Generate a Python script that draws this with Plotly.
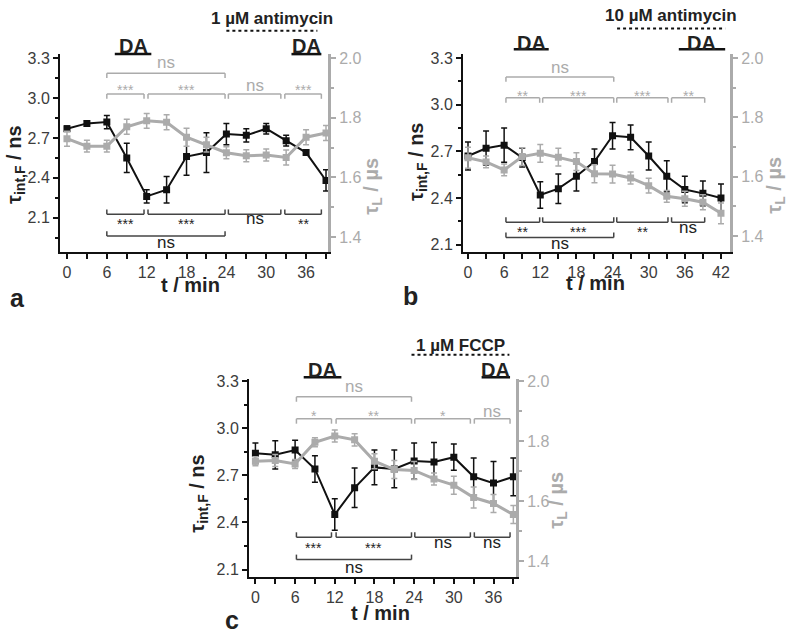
import plotly.graph_objects as go

# ---------------- data ----------------
# panel a : 1 uM antimycin
t_a = [0, 3, 6, 9, 12, 15, 18, 21, 24, 27, 30, 33, 36, 39]
tau_f_a = [2.77, 2.81, 2.82, 2.55, 2.26, 2.31, 2.56, 2.59, 2.73, 2.72, 2.77, 2.68, 2.59, 2.38]
tau_f_a_err = [0.02, 0.02, 0.05, 0.11, 0.05, 0.10, 0.14, 0.15, 0.08, 0.05, 0.04, 0.04, 0.02, 0.08]
tau_l_a = [1.73, 1.705, 1.705, 1.77, 1.79, 1.785, 1.735, 1.71, 1.683, 1.673, 1.675, 1.667, 1.735, 1.749]
tau_l_a_err = [0.025, 0.02, 0.02, 0.025, 0.025, 0.025, 0.03, 0.025, 0.02, 0.02, 0.02, 0.025, 0.025, 0.025]

# panel b : 10 uM antimycin
t_b = [0, 3, 6, 9, 12, 15, 18, 21, 24, 27, 30, 33, 36, 39, 42]
tau_f_b = [2.67, 2.72, 2.74, 2.66, 2.42, 2.46, 2.54, 2.635, 2.80, 2.79, 2.67, 2.54, 2.455, 2.43, 2.40]
tau_f_b_err = [0.09, 0.11, 0.11, 0.06, 0.085, 0.095, 0.095, 0.08, 0.085, 0.08, 0.09, 0.10, 0.085, 0.08, 0.09]
tau_l_b = [1.664, 1.65, 1.623, 1.668, 1.679, 1.666, 1.651, 1.61, 1.609, 1.596, 1.57, 1.534, 1.526, 1.514, 1.477]
tau_l_b_err = [0.035, 0.02, 0.02, 0.03, 0.03, 0.03, 0.03, 0.03, 0.03, 0.02, 0.025, 0.02, 0.025, 0.025, 0.035]

# panel c : 1 uM FCCP
t_c = [0, 3, 6, 9, 12, 15, 18, 21, 24, 27, 30, 33, 36, 39]
tau_f_c = [2.84, 2.83, 2.86, 2.74, 2.45, 2.62, 2.75, 2.74, 2.79, 2.785, 2.815, 2.69, 2.65, 2.69]
tau_f_c_err = [0.065, 0.09, 0.063, 0.084, 0.10, 0.126, 0.11, 0.12, 0.115, 0.124, 0.084, 0.12, 0.137, 0.12]
tau_l_c = [1.733, 1.735, 1.724, 1.796, 1.817, 1.804, 1.733, 1.705, 1.702, 1.674, 1.653, 1.612, 1.592, 1.555]
tau_l_c_err = [0.015, 0.02, 0.015, 0.015, 0.02, 0.02, 0.025, 0.03, 0.03, 0.02, 0.03, 0.035, 0.03, 0.03]

# significance labels (grey = tau_L, black = tau_int,F)
sig_grey_a = ["***", "***", "ns", "***"]
sig_black_a = ["***", "***", "ns", "**"]
sig_grey_b = ["**", "***", "***", "**"]
sig_black_b = ["**", "***", "**", "ns"]
sig_grey_c = ["*", "**", "*", "ns"]
sig_black_c = ["***", "***", "ns", "ns"]
sig_outer = "ns"

drugs = ["1 µM antimycin", "10 µM antimycin", "1 µM FCCP"]
letters = ["a", "b", "c"]

# ---------------- layout ----------------
W, H = 787, 635
FONT = "Liberation Sans, Arial, sans-serif"
INK = "#111111"
GREY = "#ababab"
TICKC = "#3c3c3c"

panels = [
    dict(t=t_a, f=tau_f_a, fe=tau_f_a_err, l=tau_l_a, le=tau_l_a_err,
         sg=sig_grey_a, sb=sig_black_a,
         px=(60, 328), py=(48, 248), xr=(-1.05, 39.3), yl=(1.842, 3.33), yr=(1.35, 2.013),
         spans=[(6, 11.6), (12.2, 23.8), (24.3, 32.2), (32.8, 38.3)], outer=(6, 23.8),
         rows=(0.905, 0.95, 0.80, 0.835, 0.19, 0.16, 0.08, 0.04),
         da=[(7.2, 12.7), (33.8, 38.3)], da_y=(47.7, 40), drug=(24, 37.7), drug_y=(24, 12),
         ltit=(16, 160), rtit=(373, 182), xtit=(190, 282), let=(17, 295)),
    dict(t=t_b, f=tau_f_b, fe=tau_f_b_err, l=tau_l_b, le=tau_l_b_err,
         sg=sig_grey_b, sb=sig_black_b,
         px=(463, 730), py=(48, 248), xr=(-0.83, 43.5), yl=(2.054, 3.323), yr=(1.347, 2.012),
         spans=[(6.3, 11.9), (12.4, 24.2), (24.7, 33.2), (33.8, 39.3)], outer=(6.3, 24.2),
         rows=(0.886, 0.925, 0.78, 0.805, 0.15, 0.118, 0.073, 0.036),
         da=[(7.6, 13.4), (35, 42.7)], da_y=(42.7, 36), drug=(24.75, 42.7), drug_y=(21.7, 9),
         ltit=(417, 157), rtit=(776, 181), xtit=(595, 280), let=(410, 293)),
    dict(t=t_c, f=tau_f_c, fe=tau_f_c_err, l=tau_l_c, le=tau_l_c_err,
         sg=sig_grey_c, sb=sig_black_c,
         px=(249, 516), py=(377, 577), xr=(-0.97, 39.4), yl=(2.054, 3.311), yr=(1.348, 2.006),
         spans=[(6.2, 11.5), (12.2, 23.6), (24.1, 32.5), (33.1, 38.5)], outer=(6.2, 23.6),
         rows=(0.911, 0.955, 0.80, 0.83, 0.20, 0.164, 0.087, 0.042),
         da=[(7.3, 13), (34.2, 38.5)], da_y=(375, 368), drug=(23.6, 38.4), drug_y=(352.3, 343),
         ltit=(199, 492), rtit=(558, 500), xtit=(380, 614), let=(232, 621)),
]

fig = go.Figure()
shapes, annos = [], []
layout = {}


def key(base, n):
    return base if n == 1 else f"{base}{n}"


for i, p in enumerate(panels):
    xn = key("x", i + 1)
    yln = key("y", 2 * i + 1)
    yrn = key("y", 2 * i + 2)
    xdom = [p["px"][0] / W, p["px"][1] / W]
    ydom = [1 - p["py"][1] / H, 1 - p["py"][0] / H]
    ph = p["py"][1] - p["py"][0]

    fig.add_trace(go.Scatter(
        x=p["t"], y=p["f"], xaxis=xn, yaxis=yln, mode="lines+markers",
        line=dict(color=INK, width=2), marker=dict(symbol="square", size=7, color=INK),
        error_y=dict(type="data", array=p["fe"], color=INK, thickness=1.5, width=3),
        showlegend=False))
    fig.add_trace(go.Scatter(
        x=p["t"], y=p["l"], xaxis=xn, yaxis=yrn, mode="lines+markers",
        line=dict(color=GREY, width=3), marker=dict(symbol="square", size=7, color=GREY),
        error_y=dict(type="data", array=p["le"], color=GREY, thickness=1.5, width=3),
        showlegend=False))

    layout[key("xaxis", i + 1)] = dict(
        domain=xdom, anchor=yln, range=list(p["xr"]), tick0=0, dtick=6,
        ticks="outside", ticklen=5, tickwidth=1.5, tickcolor=INK,
        minor=dict(dtick=3, tick0=0, ticks="outside", ticklen=5, tickwidth=1.5, tickcolor=INK),
        showline=True, linecolor=INK, linewidth=2, showgrid=False, zeroline=False,
        tickfont=dict(family=FONT, size=16, color=TICKC))
    layout[key("yaxis", 2 * i + 1)] = dict(
        domain=ydom, anchor=xn, range=list(p["yl"]), tick0=2.1, dtick=0.3, tickformat=".1f",
        ticks="outside", ticklen=5, tickwidth=1.5, tickcolor=INK,
        minor=dict(dtick=0.15, tick0=2.1, ticks="outside", ticklen=3, tickwidth=1.5, tickcolor=INK),
        showline=True, linecolor=INK, linewidth=2, showgrid=False, zeroline=False,
        tickfont=dict(family=FONT, size=16, color=TICKC))
    layout[key("yaxis", 2 * i + 2)] = dict(
        domain=ydom, anchor=xn, overlaying=yln, side="right", range=list(p["yr"]),
        tick0=1.4, dtick=0.2, tickformat=".1f",
        ticks="outside", ticklen=5, tickwidth=1.5, tickcolor=GREY,
        minor=dict(dtick=0.1, tick0=1.4, ticks="outside", ticklen=3, tickwidth=1.5, tickcolor=GREY),
        showline=True, linecolor=GREY, linewidth=3, showgrid=False, zeroline=False,
        tickfont=dict(family=FONT, size=16, color=GREY))

    xr0, xr1 = p["xr"]

    def fx(t):
        return (t - xr0) / (xr1 - xr0)

    xd = "x domain" if i == 0 else f"x{i + 1} domain"
    yd = "y domain" if i == 0 else f"y{2 * i + 1} domain"
    hb = 5 / ph

    def bracket(t0, t1, y, up, color):
        dy = hb if up else -hb
        for (a, b, c, d) in [(t0, y, t1, y), (t0, y, t0, y + dy), (t1, y, t1, y + dy)]:
            shapes.append(dict(type="line", xref=xd, yref=yd, x0=fx(a), y0=b, x1=fx(c), y1=d,
                               line=dict(color=color, width=1.5)))

    def label(t, y, txt, color):
        small = "*" in txt
        yy = y - (3.3 / ph if small else -1.4 / ph)
        annos.append(dict(xref=xn, yref=yd, x=t, y=yy, text=txt, showarrow=False,
                          xanchor="center", yanchor="middle",
                          font=dict(family=FONT, size=14 if small else 17, color=color)))

    top_line, top_txt, row_line, row_txt, bot_line, bot_txt, low_line, low_txt = p["rows"]
    o0, o1 = p["outer"]
    bracket(o0, o1, top_line, False, GREY)
    label((o0 + o1) / 2, top_txt, sig_outer, GREY)
    bracket(o0, o1, low_line, True, "#444444")
    label((o0 + o1) / 2, low_txt, sig_outer, "#222222")
    for (s0, s1), g, b in zip(p["spans"], p["sg"], p["sb"]):
        bracket(s0, s1, row_line, False, GREY)
        label((s0 + s1) / 2, row_txt, g, GREY)
        bracket(s0, s1, bot_line, True, "#444444")
        label((s0 + s1) / 2, bot_txt, b, "#222222")

    # DA bars and drug bar above the panel
    for d0, d1 in p["da"]:
        shapes.append(dict(type="line", xref=xd, yref="paper", x0=fx(d0), x1=fx(d1),
                           y0=1 - p["da_y"][0] / H, y1=1 - p["da_y"][0] / H,
                           line=dict(color=INK, width=2.5)))
        annos.append(dict(xref=xn, yref="paper", x=(d0 + d1) / 2, y=1 - p["da_y"][1] / H,
                          text="<b>DA</b>", showarrow=False, yanchor="middle",
                          font=dict(family=FONT, size=20, color="#222222")))
    g0, g1 = p["drug"]
    shapes.append(dict(type="line", xref=xd, yref="paper", x0=fx(g0), x1=fx(g1),
                       y0=1 - p["drug_y"][0] / H, y1=1 - p["drug_y"][0] / H,
                       line=dict(color=INK, width=2, dash="dot")))
    annos.append(dict(xref=xn, yref="paper", x=(g0 + g1) / 2, y=1 - p["drug_y"][1] / H,
                      text=f"<b>{drugs[i]}</b>", showarrow=False, yanchor="middle",
                      font=dict(family=FONT, size=17, color="#222222")))

    # axis titles
    annos.append(dict(xref="paper", yref="paper", x=p["ltit"][0] / W, y=1 - p["ltit"][1] / H,
                      text="<b>τ<sub>int,F</sub> / ns</b>", textangle=-90, showarrow=False,
                      xanchor="center", yanchor="middle",
                      font=dict(family=FONT, size=20, color="#222222")))
    annos.append(dict(xref="paper", yref="paper", x=p["rtit"][0] / W, y=1 - p["rtit"][1] / H,
                      text="<b>τ<sub>L</sub> / µs</b>", textangle=-90, showarrow=False,
                      xanchor="center", yanchor="middle",
                      font=dict(family=FONT, size=20, color=GREY)))
    annos.append(dict(xref="paper", yref="paper", x=p["xtit"][0] / W, y=1 - p["xtit"][1] / H,
                      text="<b>t / min</b>", showarrow=False, xanchor="center", yanchor="middle",
                      font=dict(family=FONT, size=20, color="#222222")))
    annos.append(dict(xref="paper", yref="paper", x=p["let"][0] / W, y=1 - p["let"][1] / H,
                      text=f"<b>{letters[i]}</b>", showarrow=False, xanchor="center", yanchor="middle",
                      font=dict(family=FONT, size=25, color="#222222")))

fig.update_layout(
    width=W, height=H, margin=dict(l=0, r=0, t=0, b=0),
    paper_bgcolor="white", plot_bgcolor="white",
    shapes=shapes, annotations=annos, **layout)

# pin the plot to the page corner (no body margin, no modebar)
pin = ("document.body.style.margin='0';document.body.style.overflow='hidden';"
       "var d=document.getElementById('{plot_id}');"
       "d.style.position='absolute';d.style.left='0px';d.style.top='0px';")
fig.write_html("out.html", config={"displayModeBar": False}, post_script=pin)
